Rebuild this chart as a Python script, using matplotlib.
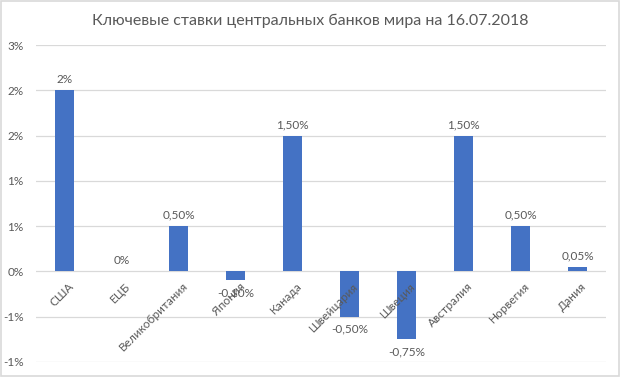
import math
import matplotlib.pyplot as plt
from matplotlib.patches import Rectangle

# data
countries = ['США', 'ЕЦБ', 'Великобритания', 'Япония', 'Канада',
             'Швейцария', 'Швеция', 'Австралия', 'Норвегия', 'Дания']
rates = [2.0, 0.0, 0.5, -0.1, 1.5, -0.5, -0.75, 1.5, 0.5, 0.05]
rate_labels = ['2%', '0%', '0,50%', '-0,10%', '1,50%',
               '-0,50%', '-0,75%', '1,50%', '0,50%', '0,05%']
y_ticks = [-1.0, -0.5, 0.0, 0.5, 1.0, 1.5, 2.0, 2.5]

title = 'Ключевые ставки центральных банков мира на 16.07.2018'

plt.rcParams['font.family'] = ['Lato', 'DejaVu Sans']
text_col = '#595959'
grid_col = '#d9d9d9'
bar_col = '#4472c4'


def excel_pct(v):
    # Excel rounds half away from zero
    r = math.floor(abs(v) + 0.5) * (1 if v >= 0 else -1)
    return f'{r}%'


fig = plt.figure(figsize=(6.2, 3.77), dpi=100)
ax = fig.add_axes([36 / 620, 15 / 377, 570 / 620, 317 / 377])

x = list(range(len(countries)))
ax.bar(x, rates, width=0.32, color=bar_col, zorder=3)

ax.set_xlim(-0.5, len(countries) - 0.5)
ax.set_ylim(y_ticks[0], y_ticks[-1])
ax.set_yticks(y_ticks)
ax.set_yticklabels([excel_pct(v) for v in y_ticks])
ax.tick_params(axis='y', length=0, pad=9, labelsize=8.5, labelcolor=text_col)
ax.set_xticks([])
ax.grid(axis='y', color=grid_col, linewidth=0.9, zorder=0)
for s in ax.spines.values():
    s.set_visible(False)

# category labels sit next to the zero line, as in Excel
for i, name in enumerate(countries):
    ax.annotate(name, xy=(i, 0), xytext=(2.5, -6.5), textcoords='offset points',
                rotation=45, ha='right', va='top', rotation_mode='anchor',
                fontsize=8.5, color=text_col, zorder=4)

# data labels
for i, (v, lab) in enumerate(zip(rates, rate_labels)):
    if v >= 0:
        ax.annotate(lab, xy=(i, v), xytext=(0, 4), textcoords='offset points',
                    ha='center', va='bottom', fontsize=8.5, color=text_col)
    else:
        ax.annotate(lab, xy=(i, v), xytext=(0, -5), textcoords='offset points',
                    ha='center', va='top', fontsize=8.5, color=text_col)

fig.text(0.5, 1 - 21 / 377, title, ha='center', va='center',
         fontsize=11.5, color=text_col)

fig.patches.append(Rectangle((0.001, 0.002), 0.997, 0.995, transform=fig.transFigure,
                             fill=False, edgecolor=grid_col, linewidth=1.2))

fig.savefig('out.png', dpi=100)
